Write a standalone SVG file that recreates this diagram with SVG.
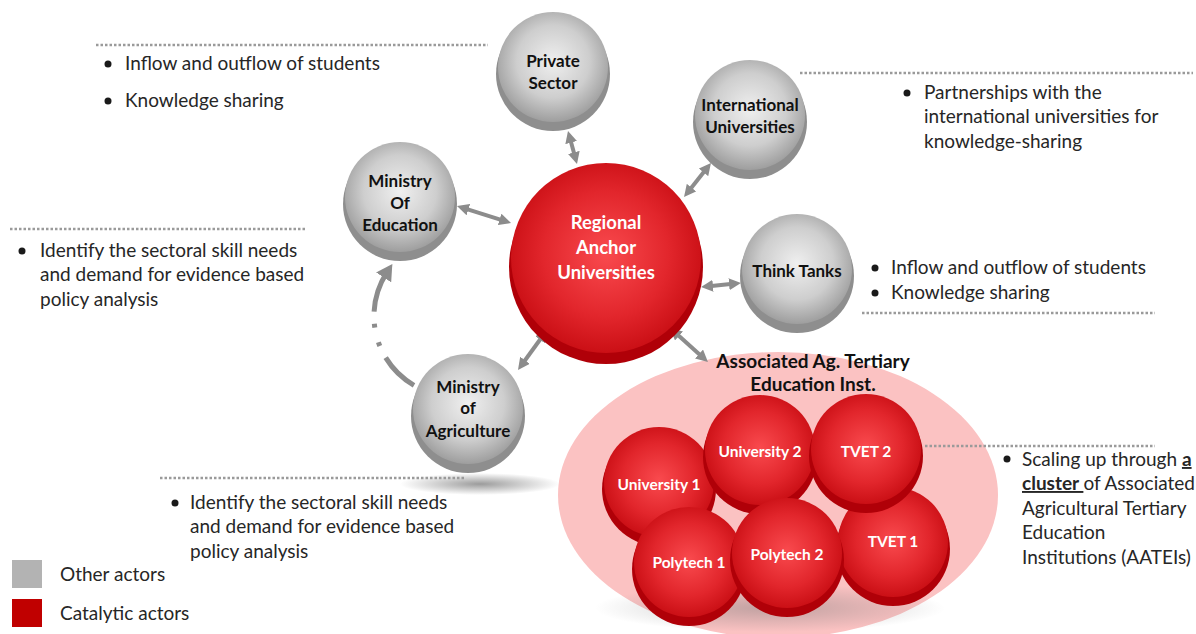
<svg xmlns="http://www.w3.org/2000/svg" width="1196" height="634" viewBox="0 0 1196 634">
<style>
.body{font-family:Lato,"Liberation Sans",sans-serif;font-size:19px;fill:#262626}
.lbl{font-family:Lato,"Liberation Sans",sans-serif;font-weight:bold;font-size:17px;fill:#111;text-anchor:middle}
.wl{font-family:Lato,"Liberation Sans",sans-serif;font-weight:bold;font-size:18.5px;fill:#fff;text-anchor:middle}
.ws{font-family:Lato,"Liberation Sans",sans-serif;font-weight:bold;font-size:15.5px;fill:#fff;text-anchor:middle}
.head{font-family:Lato,"Liberation Sans",sans-serif;font-weight:bold;font-size:19px;fill:#111;text-anchor:middle}
.dot{stroke:#9a9a9a;stroke-width:2.5;stroke-dasharray:2.5 2;fill:none}
.gb{fill:#8e8e8e}
.gt{fill:url(#gGray)}
.rb{fill:#b00008}
.rt{fill:url(#gRed)}
.conn{stroke:#8c8c8c;stroke-width:4;fill:none;marker-start:url(#ah);marker-end:url(#ah)}
.bul{fill:#1a1a1a}
</style>
<defs>
<radialGradient id="gGray" cx="50%" cy="45%" r="55%">
<stop offset="0" stop-color="#efefef"/>
<stop offset="0.6" stop-color="#cecece"/>
<stop offset="1" stop-color="#9e9e9e"/>
</radialGradient>
<radialGradient id="gRed" cx="50%" cy="48%" r="55%">
<stop offset="0" stop-color="#f94a4e"/>
<stop offset="0.6" stop-color="#e2262c"/>
<stop offset="1" stop-color="#c70c12"/>
</radialGradient>
<radialGradient id="gShadow" cx="50%" cy="50%" r="50%">
<stop offset="0" stop-color="#7a7a7a" stop-opacity="0.75"/>
<stop offset="1" stop-color="#7a7a7a" stop-opacity="0"/>
</radialGradient>
<marker id="ah" markerUnits="userSpaceOnUse" markerWidth="12" markerHeight="12" viewBox="0 0 12 12" refX="4" refY="6" orient="auto-start-reverse">
<path d="M0,0 L12,6 L0,12 z" fill="#8c8c8c"/>
</marker>
<marker id="ahBig" markerUnits="userSpaceOnUse" markerWidth="16" markerHeight="18" viewBox="0 0 16 18" refX="6" refY="9" orient="auto">
<path d="M0,0 L16,9 L0,18 z" fill="#8c8c8c"/>
</marker>
</defs>

<rect width="1196" height="634" fill="#fff"/>

<!-- background cluster ellipse and shadows -->
<ellipse cx="778" cy="495" rx="220" ry="143" fill="#fbc2c2"/>
<ellipse cx="480" cy="484" rx="80" ry="11" fill="url(#gShadow)"/>
<ellipse cx="770" cy="608" rx="175" ry="24" fill="url(#gShadow)" opacity="0.6"/>

<!-- dotted leader lines -->
<g id="leaders">
<line class="dot" x1="96" y1="45" x2="488" y2="45"/>
<line class="dot" x1="800" y1="73" x2="1193" y2="73"/>
<line class="dot" x1="10" y1="229" x2="305" y2="229"/>
<line class="dot" x1="862" y1="313" x2="1155" y2="313"/>
<line class="dot" x1="160" y1="478" x2="465" y2="478"/>
<line class="dot" x1="925" y1="446" x2="1155" y2="446"/>
</g>

<!-- connectors -->
<g id="connectors">
<line class="conn" x1="570.1" y1="138.7" x2="574.9" y2="156.3"/>
<line class="conn" x1="706" y1="169.3" x2="689" y2="190.7"/>
<line class="conn" x1="464.6" y1="208.4" x2="503.4" y2="220.6"/>
<line class="conn" x1="709" y1="286.2" x2="733" y2="283.8"/>
<line class="conn" x1="542.3" y1="336.5" x2="522.7" y2="363.5"/>
<line class="conn" x1="676" y1="333.3" x2="702" y2="356.7"/>
<path d="M414 385.3 A80 80 0 0 1 386.9 272.4" fill="none" stroke="#8c8c8c" stroke-width="5" stroke-dasharray="40 13 4 15 4 12 60" marker-end="url(#ahBig)"/>
</g>

<!-- nodes -->
<g id="n-private" transform="translate(553,70)">
<circle class="gb" cy="4" r="57"/><circle class="gt" cy="-3" r="55"/>
<text class="lbl" y="-3">Private</text><text class="lbl" y="19">Sector</text>
</g>
<g id="n-international" transform="translate(750,118)">
<circle class="gb" cy="4" r="57"/><circle class="gt" cy="-3" r="55"/>
<text class="lbl" y="-7">International</text><text class="lbl" y="15">Universities</text>
</g>
<g id="n-moe" transform="translate(400,200)">
<circle class="gb" cy="4" r="57"/><circle class="gt" cy="-3" r="55"/>
<text class="lbl" y="-13">Ministry</text><text class="lbl" y="9">Of</text><text class="lbl" y="31">Education</text>
</g>
<g id="n-rau" transform="translate(606,262)">
<circle class="rb" cy="5" r="97"/><circle class="rt" cy="-4" r="95"/>
<text class="wl" y="-33">Regional</text><text class="wl" y="-8">Anchor</text><text class="wl" y="17">Universities</text>
</g>
<g id="n-think" transform="translate(797,272)">
<circle class="gb" cy="4" r="57"/><circle class="gt" cy="-3" r="55"/>
<text class="lbl" y="5">Think Tanks</text>
</g>
<g id="n-moa" transform="translate(468,412)">
<circle class="gb" cy="4" r="57"/><circle class="gt" cy="-3" r="55"/>
<text class="lbl" y="-19">Ministry</text><text class="lbl" y="2">of</text><text class="lbl" y="25">Agriculture</text>
</g>

<g id="n-assoc-title">
<text class="head" x="813" y="368">Associated Ag. Tertiary</text>
<text class="head" x="813" y="391">Education Inst.</text>
</g>

<g id="n-univ1" transform="translate(659,485)">
<circle class="rb" cy="4" r="57"/><circle class="rt" cy="-3" r="55"/>
<text class="ws" y="5">University 1</text>
</g>
<g id="n-univ2" transform="translate(760,453)">
<circle class="rb" cy="4" r="57"/><circle class="rt" cy="-3" r="55"/>
<text class="ws" y="4">University 2</text>
</g>
<g id="n-tvet1" transform="translate(893,545)">
<circle class="rb" cy="4" r="57"/><circle class="rt" cy="-3" r="55"/>
<text class="ws" y="2">TVET 1</text>
</g>
<g id="n-tvet2" transform="translate(866,452)">
<circle class="rb" cy="4" r="57"/><circle class="rt" cy="-3" r="55"/>
<text class="ws" y="5">TVET 2</text>
</g>
<g id="n-poly1" transform="translate(689,565)">
<circle class="rb" cy="4" r="57"/><circle class="rt" cy="-3" r="55"/>
<text class="ws" y="3">Polytech 1</text>
</g>
<g id="n-poly2" transform="translate(787,556)">
<circle class="rb" cy="4" r="57"/><circle class="rt" cy="-3" r="55"/>
<text class="ws" y="4">Polytech 2</text>
</g>

<!-- annotation texts -->
<g id="t-private">
<circle class="bul" cx="108" cy="64" r="3.5"/><text class="body" x="125" y="70">Inflow and outflow of students</text>
<circle class="bul" cx="108" cy="101" r="3.5"/><text class="body" x="125" y="107">Knowledge sharing</text>
</g>
<g id="t-international">
<circle class="bul" cx="907" cy="93" r="3.5"/>
<text class="body" x="924" y="99">Partnerships with the</text>
<text class="body" x="924" y="123">international universities for</text>
<text class="body" x="924" y="148">knowledge-sharing</text>
</g>
<g id="t-moe">
<circle class="bul" cx="22" cy="251" r="3.5"/>
<text class="body" x="40" y="257">Identify the sectoral skill needs</text>
<text class="body" x="40" y="281">and demand for evidence based</text>
<text class="body" x="40" y="306">policy analysis</text>
</g>
<g id="t-think">
<circle class="bul" cx="875" cy="268" r="3.5"/><text class="body" x="891" y="274">Inflow and outflow of students</text>
<circle class="bul" cx="875" cy="293" r="3.5"/><text class="body" x="891" y="299">Knowledge sharing</text>
</g>
<g id="t-moa">
<circle class="bul" cx="175" cy="503" r="3.5"/>
<text class="body" x="190" y="509">Identify the sectoral skill needs</text>
<text class="body" x="190" y="533">and demand for evidence based</text>
<text class="body" x="190" y="558">policy analysis</text>
</g>
<g id="t-cluster">
<circle class="bul" cx="1007" cy="459" r="3.5"/>
<text class="body" x="1022" y="466">Scaling up through <tspan font-weight="bold" text-decoration="underline">a</tspan></text>
<text class="body" x="1022" y="490"><tspan font-weight="bold" text-decoration="underline">cluster&#160;</tspan>of Associated</text>
<text class="body" x="1022" y="515">Agricultural Tertiary</text>
<text class="body" x="1022" y="539">Education</text>
<text class="body" x="1022" y="564">Institutions (AATEIs)</text>
</g>

<!-- legend -->
<g id="legend">
<rect x="12" y="560" width="30" height="28" fill="#b3b3b3"/>
<text class="body" x="60" y="581">Other actors</text>
<rect x="12" y="599" width="30" height="28" fill="#c00000"/>
<text class="body" x="60" y="620">Catalytic actors</text>
</g>
</svg>
